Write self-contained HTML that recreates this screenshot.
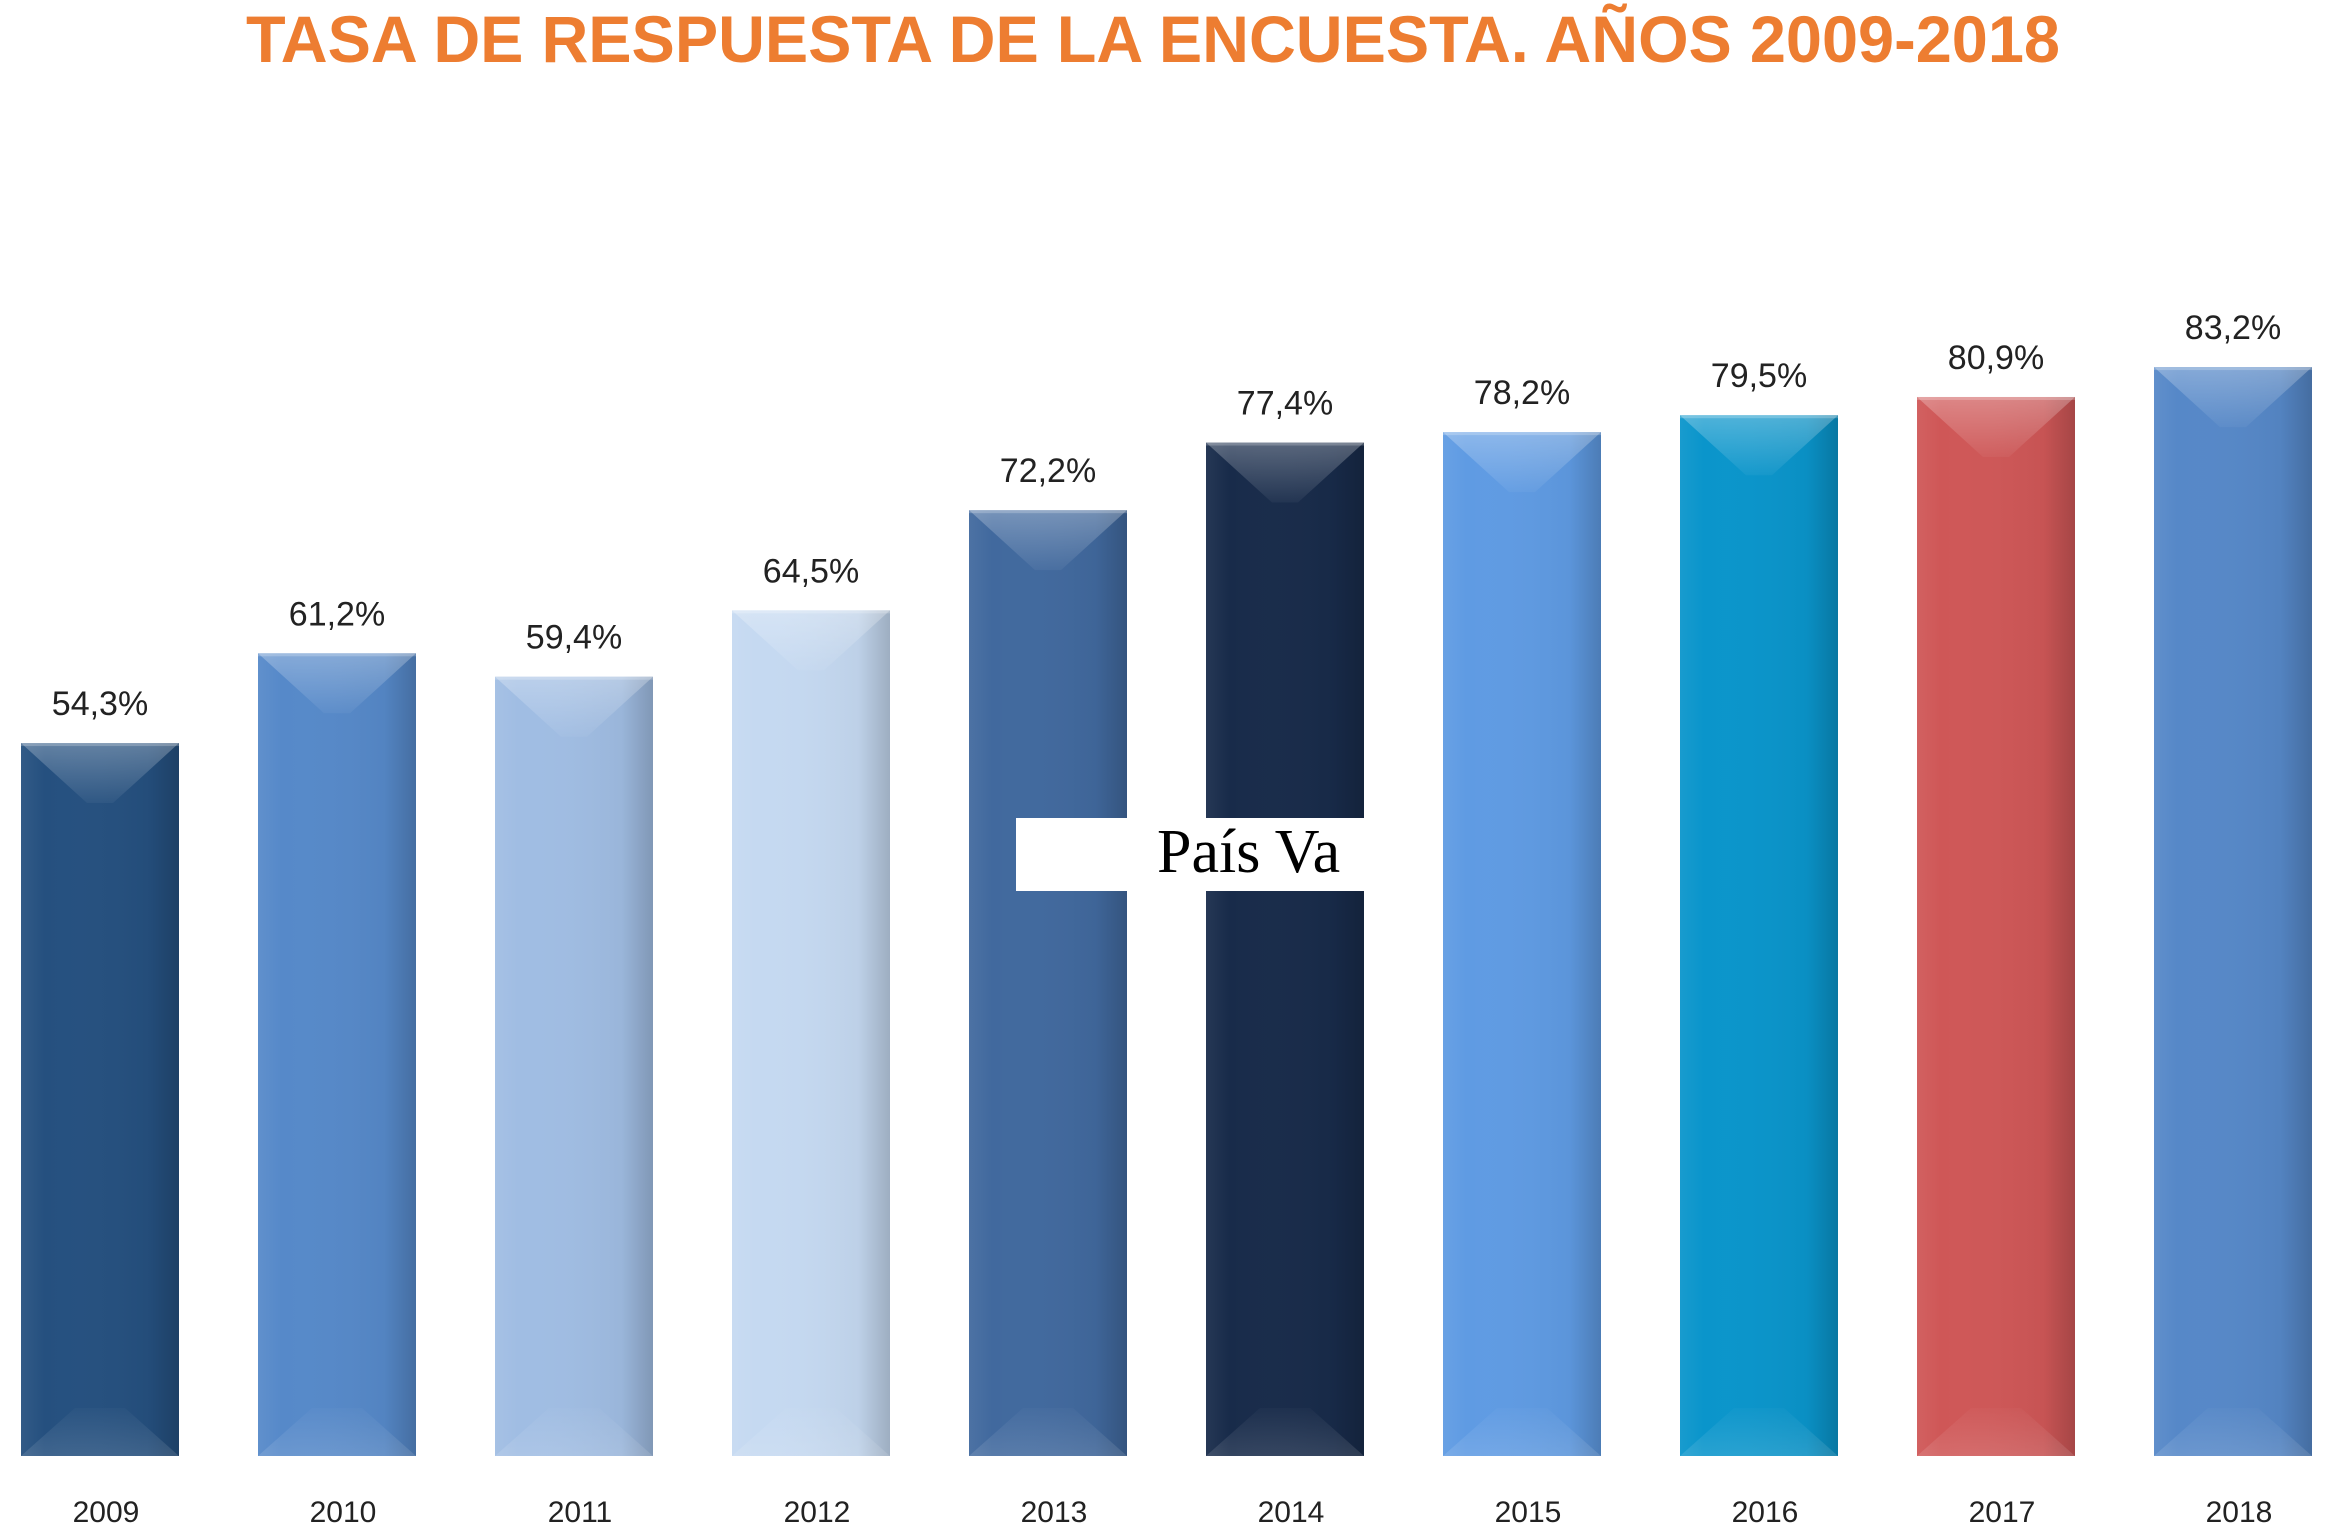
<!DOCTYPE html>
<html><head><meta charset="utf-8"><style>
html,body{margin:0;padding:0;background:#fff;}
svg{display:block;}
</style></head><body>
<svg id="chart" width="2341" height="1529" viewBox="0 0 2341 1529" xmlns="http://www.w3.org/2000/svg">
<defs>
<linearGradient id="side" x1="0" y1="0" x2="1" y2="0">
<stop offset="0" stop-color="#fff" stop-opacity="0.06"/>
<stop offset="0.15" stop-color="#fff" stop-opacity="0"/>
<stop offset="0.8" stop-color="#000" stop-opacity="0.04"/>
<stop offset="1" stop-color="#000" stop-opacity="0.2"/>
</linearGradient>
<linearGradient id="topbev" x1="0" y1="0" x2="0" y2="1">
<stop offset="0" stop-color="#fff" stop-opacity="0.28"/>
<stop offset="1" stop-color="#fff" stop-opacity="0.04"/>
</linearGradient>
<linearGradient id="botbev" x1="0" y1="1" x2="0" y2="0">
<stop offset="0" stop-color="#fff" stop-opacity="0.12"/>
<stop offset="1" stop-color="#fff" stop-opacity="0.02"/>
</linearGradient>
</defs>
<text x="1153" y="62" text-anchor="middle" textLength="1814" lengthAdjust="spacingAndGlyphs" font-family="Liberation Sans, sans-serif" font-weight="bold" font-size="66" fill="#ED7D31">TASA DE RESPUESTA DE LA ENCUESTA. AÑOS 2009-2018</text>
<g id="bars"></g>
<rect x="1016" y="818" width="350" height="73" fill="#fff"/>
<text x="1157" y="872" font-family="Liberation Serif, serif" font-size="62" fill="#000">País Va</text>
</svg>
<script>
const years = ['2009','2010','2011','2012','2013','2014','2015','2016','2017','2018'];
const values = [54.3,61.2,59.4,64.5,72.2,77.4,78.2,79.5,80.9,83.2];
const valueLabels = ['54,3%','61,2%','59,4%','64,5%','72,2%','77,4%','78,2%','79,5%','80,9%','83,2%'];
const colors = ['#25507f','#5689c9','#a0bde3','#c5d9f1','#41699e','#182b4a','#5f9be3','#0a95cb','#cf5757','#5688c8'];

const NS='http://www.w3.org/2000/svg';
const baseY=1456, vMin=-0.5, pxPer=13.01;
function yScale(v){return baseY-(v-vMin)*pxPer;}
function xScale(i){return 21+i*237;}
const barW=158, bev=60;
const g=document.getElementById('bars');
function mk(tag,attrs){const e=document.createElementNS(NS,tag);for(const k in attrs)e.setAttribute(k,attrs[k]);return e;}
years.forEach((yr,i)=>{
  const x=xScale(i), y=yScale(values[i]), h=baseY-y;
  const grp=mk('g',{});
  
  
  grp.appendChild(mk('rect',{x:x,y:y,width:barW,height:h,fill:colors[i]}));
  grp.appendChild(mk('rect',{x:x,y:y,width:barW,height:h,fill:'url(#side)'}));
  grp.appendChild(mk('polygon',{points:`${x},${y} ${x+barW},${y} ${x+barW-bev*1.1},${y+bev} ${x+bev*1.1},${y+bev}`,fill:'url(#topbev)'}));
  grp.appendChild(mk('rect',{x:x,y:y,width:barW,height:3,fill:'#fff','fill-opacity':0.22}));
  grp.appendChild(mk('polygon',{points:`${x},${baseY} ${x+barW},${baseY} ${x+barW-bev*0.9},${baseY-bev*0.8} ${x+bev*0.9},${baseY-bev*0.8}`,fill:'url(#botbev)'}));
  g.appendChild(grp);
  const lbl=mk('text',{x:x+barW/2,y:y-28,'text-anchor':'middle','font-family':'Liberation Sans, sans-serif','font-size':34,fill:'#222'});
  
  
  lbl.textContent=valueLabels[i];
  g.appendChild(lbl);
  const yl=mk('text',{x:x+barW/2+6,y:1522,'text-anchor':'middle','font-family':'Liberation Sans, sans-serif','font-size':30,fill:'#222'});
  
  
  yl.textContent=yr;
  g.appendChild(yl);
});
</script>
</body></html>
